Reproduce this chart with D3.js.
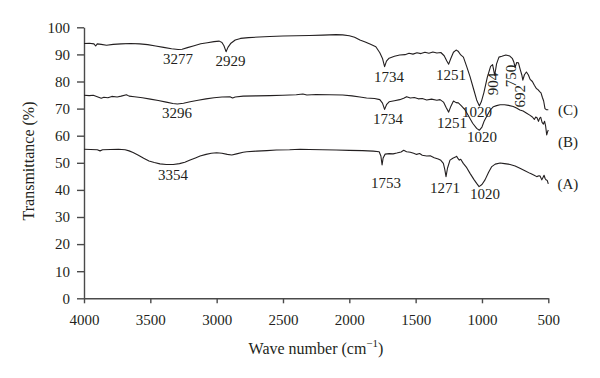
<!DOCTYPE html>
<html lang="en">
  <head>
    <meta charset="utf-8" />
    <title>FTIR spectra</title>
    <script type="text/javascript" src="https://d3js.org/d3.v7.min.js"></script>
    <style>
      body { margin: 0; background: #fff; }
      svg text { font-family: "Liberation Serif", "Times New Roman", serif; fill: #231f20; }
    </style>
  </head>
  <body>
    <div id="graph"></div>

    <script type="text/javascript">
      /***************
       * data
       ***************/

      // [wave number (cm-1), transmittance (%)]
      const spectrumC = [
        [4000,94.0],[3960,94.1],[3925,93.9],[3912,93.1],[3900,93.9],[3870,93.7],[3830,93.4],[3780,93.7],
        [3720,93.9],[3650,94.0],[3580,93.9],[3520,93.6],[3460,93.1],[3400,92.6],[3340,92.1],[3290,91.8],
        [3260,91.9],[3220,92.5],[3170,93.2],[3120,93.9],[3070,94.3],[3020,94.7],[2980,94.9],[2960,94.4],
        [2945,93.2],[2929,91.0],[2915,92.6],[2895,94.0],[2860,95.3],[2820,95.9],[2760,96.2],[2680,96.4],
        [2600,96.6],[2500,96.8],[2400,96.9],[2300,97.0],[2200,97.1],[2100,97.3],[2050,97.2],[2000,96.9],
        [1960,96.3],[1920,95.3],[1880,94.6],[1840,93.7],[1800,92.8],[1770,90.6],[1750,88.5],[1734,85.5],
        [1720,87.5],[1700,88.6],[1660,89.3],[1620,89.8],[1580,89.9],[1550,90.4],[1520,90.1],[1490,90.6],
        [1460,90.3],[1430,90.8],[1400,90.4],[1370,90.9],[1340,90.5],[1310,90.7],[1285,89.5],[1265,87.6],
        [1251,86.4],[1235,88.5],[1215,90.8],[1195,91.6],[1180,91.2],[1160,89.8],[1140,89.0],[1115,85.5],
        [1090,81.8],[1065,77.5],[1040,73.2],[1020,71.0],[1005,72.5],[985,76.0],[960,81.5],[935,85.6],
        [920,86.2],[904,82.3],[890,86.5],[872,89.0],[850,89.3],[820,89.8],[790,89.4],[770,88.4],
        [760,87.2],[750,85.2],[738,87.0],[725,86.9],[712,84.5],[700,82.5],[692,80.5],[680,82.5],
        [665,83.5],[650,82.4],[637,80.8],[620,80.0],[605,78.6],[590,77.4],[578,77.0],[565,76.3],
        [555,75.8],[545,74.2],[535,72.8],[525,70.0],[515,69.6],[500,69.6]
      ];

      const spectrumB = [
        [4000,74.9],[3960,74.8],[3930,74.9],[3900,74.4],[3870,73.8],[3850,74.2],[3820,74.0],[3790,74.5],
        [3750,74.3],[3720,74.6],[3680,75.1],[3660,74.6],[3620,74.4],[3560,74.0],[3500,73.5],[3440,73.0],
        [3380,72.4],[3330,71.9],[3296,71.7],[3250,72.0],[3200,72.5],[3140,73.1],[3080,73.6],[3020,74.0],
        [2960,74.3],[2900,74.4],[2880,73.9],[2860,74.3],[2800,74.6],[2700,74.7],[2600,74.8],[2500,74.9],
        [2400,75.1],[2350,75.4],[2320,75.0],[2250,75.2],[2150,75.1],[2050,75.0],[1980,74.7],[1920,74.3],
        [1870,73.9],[1810,73.7],[1770,73.3],[1750,72.0],[1734,69.7],[1718,71.6],[1700,72.5],[1660,72.9],
        [1620,73.3],[1590,73.8],[1568,74.4],[1540,73.9],[1510,74.1],[1480,73.6],[1450,73.7],[1417,73.2],
        [1380,73.5],[1340,73.1],[1316,73.3],[1290,72.4],[1270,70.4],[1251,68.7],[1235,70.8],[1215,72.8],
        [1195,72.2],[1178,72.1],[1155,71.0],[1127,69.5],[1100,67.2],[1070,64.6],[1040,62.7],[1020,62.0],
        [1000,63.2],[985,65.2],[964,67.2],[940,69.3],[914,70.7],[890,71.1],[863,71.4],[830,71.4],
        [800,71.2],[764,70.8],[740,70.2],[714,69.5],[690,69.1],[663,68.3],[640,67.6],[620,66.9],
        [605,66.0],[595,66.9],[585,66.6],[574,65.3],[565,66.5],[557,66.8],[547,64.9],[537,64.3],
        [528,65.3],[520,63.5],[512,60.3],[505,61.5],[500,62.1]
      ];

      const spectrumA = [
        [4000,55.0],[3950,54.9],[3900,54.8],[3879,54.4],[3860,54.8],[3800,54.9],[3740,55.0],[3690,54.8],
        [3660,54.4],[3630,53.8],[3590,52.8],[3550,51.7],[3510,50.7],[3470,50.1],[3427,49.6],[3380,49.4],
        [3327,49.4],[3280,49.7],[3240,50.2],[3200,51.0],[3160,51.8],[3125,52.5],[3080,53.1],[3040,53.5],
        [3000,53.7],[2960,53.5],[2920,53.1],[2886,52.9],[2850,53.3],[2800,53.9],[2773,54.1],[2700,54.3],
        [2622,54.5],[2550,54.7],[2450,54.8],[2371,55.0],[2300,54.9],[2200,54.8],[2100,54.7],[2000,54.6],
        [1900,54.5],[1820,54.3],[1775,54.1],[1762,52.5],[1753,49.2],[1745,51.8],[1730,53.2],[1700,53.4],
        [1670,53.3],[1642,53.6],[1610,54.0],[1590,54.6],[1568,54.1],[1540,53.9],[1515,53.5],[1493,53.1],
        [1470,53.4],[1450,52.8],[1417,52.5],[1390,52.6],[1360,51.9],[1330,51.4],[1310,50.9],[1291,49.8],
        [1280,47.5],[1271,44.9],[1260,48.0],[1241,51.0],[1220,51.7],[1200,52.1],[1191,52.4],[1180,51.5],
        [1171,51.0],[1160,51.3],[1141,49.8],[1115,48.2],[1090,46.1],[1060,43.8],[1040,42.4],[1022,41.2],
        [1000,42.0],[977,43.7],[950,46.5],[926,48.6],[900,49.5],[863,49.9],[830,49.7],[788,49.4],
        [750,48.8],[714,48.0],[680,47.2],[637,46.1],[610,45.5],[587,44.9],[570,45.2],[562,45.1],
        [549,43.7],[540,44.6],[532,45.4],[524,44.2],[517,43.7],[508,43.5],[500,42.2]
      ];

      // peak labels: [text, wave number, transmittance, rotated?]
      const peakLabels = [
        ["3277", 3291, 88.3, false], ["2929", 2896, 87.6, false], ["1734", 1701, 81.7, false],
        ["1251", 1234, 82.4, false], ["1020", 1038, 68.7, false], ["904", 917, 79.1, true],
        ["750", 781, 82.0, true], ["692", 713, 74.6, true],
        ["3296", 3299, 68.4, false], ["1734", 1708, 66.2, false], ["1251", 1226, 64.7, false],
        ["1020", 1000, 59.5, false],
        ["3354", 3329, 45.5, false], ["1753", 1724, 42.5, false], ["1271", 1279, 40.7, false],
        ["1020", 977, 38.5, false]
      ];

      const seriesNames = ["(C)", "(B)", "(A)"];
      const seriesLabelY = [69.5, 57.8, 42.2];
      const seriesLabelX = 352;

      const xTicks = [4000, 3500, 3000, 2500, 2000, 1500, 1000, 500];
      const yTicks = [0, 10, 20, 30, 40, 50, 60, 70, 80, 90, 100];

      /***************************
       * create svg
       **************************/

      const width = 600;
      const height = 378;
      const margin = { top: 27.3, right: 51.7, bottom: 79.7, left: 84 };
      const innerW = width - margin.left - margin.right;
      const innerH = height - margin.top - margin.bottom;

      const svg = d3
        .select("div#graph")
        .append("svg")
        .attr("width", width)
        .attr("height", height);

      svg.append("rect").attr("width", width).attr("height", height).attr("fill", "#fff");

      const g = svg.append("g").attr("transform", "translate(" + margin.left + "," + margin.top + ")");

      /********************
       * scale
       ********************/

      const x = d3.scaleLinear().domain([4000, 500]).range([0, innerW]);
      const y = d3.scaleLinear().domain([0, 100]).range([innerH, 0]);

      /**************
       * axes
       **************/

      const xAxis = g.append("g")
        .attr("transform", "translate(0," + innerH + ")")
        .call(d3.axisBottom(x).tickValues(xTicks).tickSize(5).tickSizeOuter(0).tickPadding(11).tickFormat(d3.format("d")));

      const yAxis = g.append("g")
        .call(d3.axisLeft(y).tickValues(yTicks).tickSize(7).tickSizeOuter(0).tickPadding(7));

      [xAxis, yAxis].forEach(function (ax) {
        ax.selectAll("path, line").attr("stroke", "#4a4a4a").attr("stroke-width", 1.4);
        ax.selectAll("text").style("font-size", "15px").attr("fill", "#231f20");
      });

      // axis titles
      const xTitle = svg.append("text")
        .attr("x", 316)
        .attr("y", 354)
        .attr("text-anchor", "middle")
        .style("font-size", "16px");
      xTitle.append("tspan").text("Wave number (cm");
      xTitle.append("tspan").attr("dy", -7).style("font-size", "11px").text("\u22121");
      xTitle.append("tspan").attr("dy", 7).text(")");

      svg.append("text")
        .attr("transform", "translate(28,161) rotate(-90)")
        .attr("text-anchor", "middle")
        .attr("dy", "0.35em")
        .style("font-size", "16px")
        .text("Transmittance (%)");

      /**************
       * spectra
       **************/

      const line = d3.line()
        .x(function (d) { return x(d[0]); })
        .y(function (d) { return y(d[1]); });

      [spectrumC, spectrumB, spectrumA].forEach(function (s) {
        g.append("path")
          .datum(s)
          .attr("fill", "none")
          .attr("stroke", "#231f20")
          .attr("stroke-width", 1.1)
          .attr("stroke-linejoin", "round")
          .attr("d", line);
      });

      // peak labels
      g.selectAll("text.peak")
        .data(peakLabels)
        .enter()
        .append("text")
        .attr("class", "peak")
        .attr("text-anchor", "middle")
        .attr("dy", "0.35em")
        .style("font-size", "15px")
        .attr("transform", function (d) {
          return "translate(" + x(d[1]) + "," + y(d[2]) + ")" + (d[3] ? " rotate(-90)" : "");
        })
        .text(function (d) { return d[0]; });

      // series names
      g.selectAll("text.series")
        .data(seriesNames)
        .enter()
        .append("text")
        .attr("class", "series")
        .attr("text-anchor", "middle")
        .attr("dy", "0.35em")
        .style("font-size", "15px")
        .attr("x", x(seriesLabelX))
        .attr("y", function (d, i) { return y(seriesLabelY[i]); })
        .text(function (d) { return d; });
    </script>
  </body>
</html>
